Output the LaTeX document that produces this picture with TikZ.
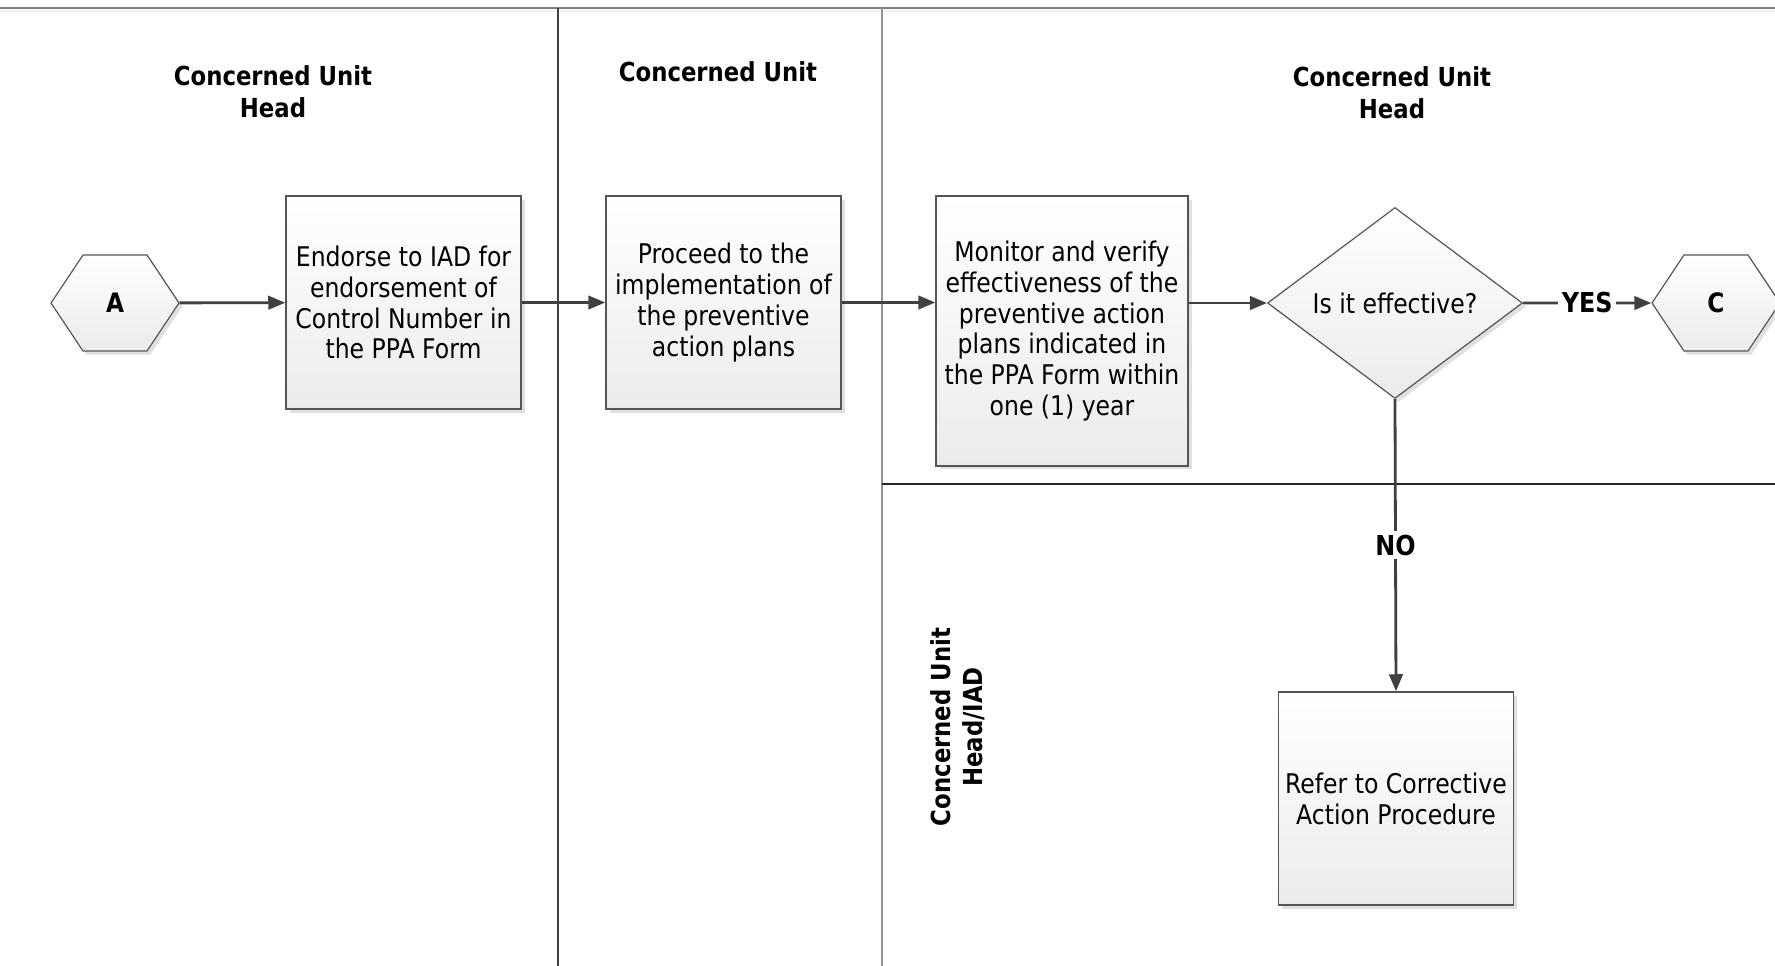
\documentclass[tikz,border=0pt]{standalone}
\usepackage{fontspec}
\setmainfont{DejaVu Sans}[FakeStretch=0.87]
\usetikzlibrary{shapes.geometric,shapes.symbols,shadows,arrows.meta}
\definecolor{flowgray}{HTML}{404040}
\definecolor{boxline}{HTML}{555555}
\definecolor{boxfill}{HTML}{EBEBEB}

\begin{document}
\begin{tikzpicture}[
        x=0.1mm,
        y=-0.1mm,
        every node/.style={font=\fontsize{7.7}{8.8}\selectfont},
        task/.style={
            rectangle,
            draw=boxline,
            line width=0.15mm,
            top color=white,
            bottom color=boxfill,
            align=center,
            minimum width=23.5mm,
            minimum height=21.3mm,
            inner sep=1pt,
            drop shadow={shadow xshift=0.35mm, shadow yshift=-0.35mm, fill=black!12, opacity=1}
        },
        decision/.style={
            diamond,
            draw=boxline,
            line width=0.12mm,
            top color=white,
            bottom color=boxfill,
            minimum width=25.5mm,
            minimum height=19.1mm,
            inner sep=0pt,
            drop shadow={shadow xshift=0.35mm, shadow yshift=-0.35mm, fill=black!12, opacity=1}
        },
        connector/.style={
            signal,
            signal to=east and west,
            signal pointer angle=112.6,
            draw=boxline,
            line width=0.12mm,
            top color=white,
            bottom color=boxfill,
            minimum width=12.8mm,
            minimum height=9.6mm,
            inner sep=0pt,
            font=\fontsize{7.6}{9}\selectfont\bfseries,
            drop shadow={shadow xshift=0.35mm, shadow yshift=-0.35mm, fill=black!12, opacity=1}
        },
        lane/.style={font=\fontsize{7.45}{9.1}\selectfont\bfseries, align=center},
        flow/.style={draw=flowgray, line width=0.28mm, -{Triangle[length=1.7mm, width=1.35mm]}},
        answer/.style={font=\fontsize{7.8}{9}\selectfont\bfseries, fill=white, inner sep=1pt, midway}
    ]
    \useasboundingbox (0,0) rectangle (1775,966);

    % Lanes
    \draw[gray, line width=0.2mm] (0,8) -- (1775,8);
    \draw[black!6, line width=0.2mm] (0,11) -- (1775,11);
    \draw[flowgray, line width=0.12mm] (558,8) -- (558,966);
    \draw[gray!85, line width=0.2mm] (882,8) -- (882,966);
    \draw[black!85, line width=0.2mm] (882,484) -- (1775,484);

    \node[lane] (lane1) at (273,92) {Concerned Unit\\Head};
    \node[lane] (lane2) at (718,72) {Concerned Unit};
    \node[lane] (lane3) at (1392,93) {Concerned Unit\\Head};
    \node[lane, rotate=90] (lane4) at (958,727) {Concerned Unit\\Head/IAD};

    % Main flow
    \node[connector] (hexA) at (115,303) {A};
    \node[task] (endorse) at (403.5,302.5) {Endorse to IAD for\\endorsement of\\Control Number in\\the PPA Form};
    \draw[flow] (hexA) -- (endorse);

    \node[task] (proceed) at (723.5,302.5) {Proceed to the\\implementation of\\the preventive\\action plans};
    \draw[flow] (endorse) -- (proceed);

    \node[task, minimum width=25.2mm, minimum height=27mm] (monitor) at (1062,331) {Monitor and verify\\effectiveness of the\\preventive action\\plans indicated in\\the PPA Form within\\one (1) year};
    \draw[flow] (proceed.east) -- (proceed.east -| monitor.west);

    \node[decision] (effective) at (1395,303) {Is it effective?};
    \draw[flow] (monitor.east |- effective) -- (effective);

    % YES / NO
    \node[connector] (hexC) at (1716,303) {C};
    \draw[flow] (effective) -- node[answer] {YES} (hexC);

    \node[task] (refer) at (1396,798.5) {Refer to Corrective\\Action Procedure};
    \draw[flow] (effective.south) -- node[answer] {NO} (refer.north);
\end{tikzpicture}
\end{document}
